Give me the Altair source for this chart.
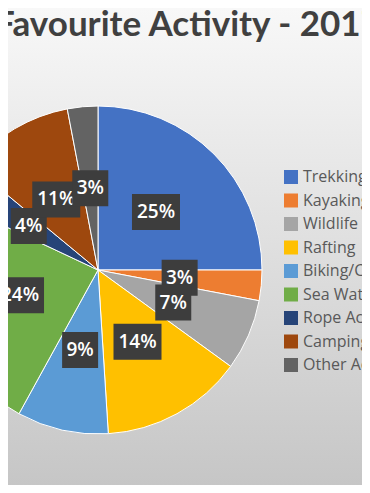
import altair as alt
import pandas as pd

title_text = "Favourite Activity - 2017"
activities = ["Trekking", "Kayaking", "Wildlife Safari", "Rafting", "Biking/Cycling",
              "Sea Water Activities", "Rope Activities", "Camping", "Other Activities"]
shares = [25, 3, 7, 14, 9, 24, 4, 11, 3]
colors = ["#4472C4", "#ED7D31", "#A5A5A5", "#FFC000", "#5B9BD5",
          "#70AD47", "#264478", "#9E480E", "#636363"]

W, H = 354, 477
CX, CY, R = 90, 262, 164
LR = 82

df = pd.DataFrame({
    "idx": list(range(len(activities))),
    "activity": activities,
    "share": shares,
    "label": [f"{v}%" for v in shares],
})
one = pd.DataFrame({"a": [0]})

bg = alt.Chart(one).mark_rect(
    color=alt.Gradient(
        gradient="linear",
        stops=[alt.GradientStop(color="#f8f8f8", offset=0),
               alt.GradientStop(color="#c6c6c6", offset=1)],
        x1=0, x2=0, y1=0, y2=1,
    )
).encode(x=alt.value(0), x2=alt.value(W), y=alt.value(0), y2=alt.value(H))

title = alt.Chart(one).mark_text(
    text=title_text, font="Lato", fontSize=35, fontWeight="bold",
    color="#404040", align="center", baseline="alphabetic",
).encode(x=alt.value(180), y=alt.value(28))

pie = alt.Chart(df).mark_arc(radius=R, stroke="white", strokeWidth=1).encode(
    theta=alt.Theta("share:Q", stack=True),
    order=alt.Order("idx:Q", sort="ascending"),
    color=alt.Color(
        "activity:N",
        sort=activities,
        scale=alt.Scale(domain=activities, range=colors),
        legend=alt.Legend(
            orient="none", legendX=275, legendY=161, title=None,
            symbolType="square", symbolSize=196, symbolStrokeWidth=0,
            symbolOpacity=1,
            labelFont="Open Sans", labelFontSize=16, labelColor="#595959",
            labelOffset=4, labelLimit=400, rowPadding=7.5,
        ),
    ),
    x=alt.value(CX), y=alt.value(CY),
)

base = alt.Chart(df).transform_joinaggregate(
    total="sum(share)"
).transform_window(
    cum="sum(share)", sort=[alt.SortField("idx")], frame=[None, 0]
).transform_calculate(
    mid="(datum.cum - datum.share / 2) / datum.total * 2 * PI",
    lx=f"{CX} + {LR} * sin(datum.mid)",
    ly=f"{CY} - {LR} * cos(datum.mid)",
    bw="12 * length(datum.label) + 12",
).transform_calculate(
    bx0="datum.lx - datum.bw / 2",
    bx1="datum.lx + datum.bw / 2",
    by0="datum.ly - 18",
    by1="datum.ly + 18",
)

label_layers = []
for i in range(len(activities)):
    sub = base.transform_filter(f"datum.idx == {i}")
    box = sub.mark_rect(color="#3d3d3d").encode(
        x=alt.X("bx0:Q", scale=None, axis=None),
        x2="bx1:Q",
        y=alt.Y("by0:Q", scale=None, axis=None),
        y2="by1:Q",
    )
    txt = sub.mark_text(
        font="Open Sans", fontSize=19, fontWeight=600, color="white",
        align="center", baseline="middle",
    ).encode(
        x=alt.X("lx:Q", scale=None, axis=None),
        y=alt.Y("ly:Q", scale=None, axis=None),
        text="label:N",
    )
    label_layers += [box, txt]

chart = alt.layer(bg, title, pie, *label_layers).properties(
    width=W, height=H, padding=0, autosize=alt.AutoSizeParams(type="none")
).configure_view(stroke=None)

chart.save("out.html", embed_options={"renderer": "svg", "actions": False})
